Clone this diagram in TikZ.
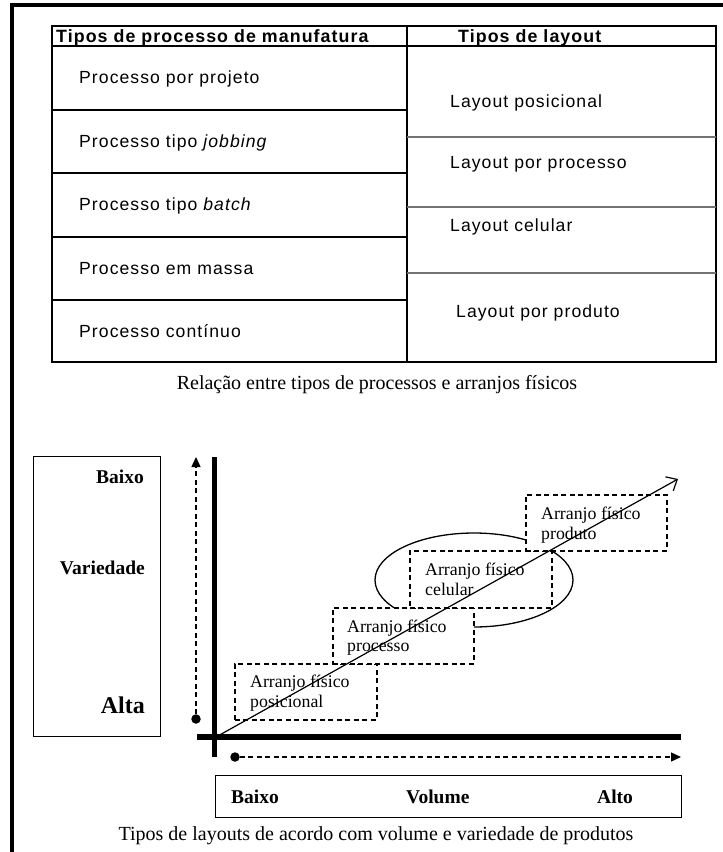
\documentclass[tikz,border=0pt]{standalone}
\usepackage{fontspec}
\setmainfont{Liberation Serif}
\newfontfamily\tabfont[LetterSpace=6]{Liberation Sans}
\usetikzlibrary{arrows.meta,shapes.geometric}

\begin{document}
\begin{tikzpicture}[x=1pt,y=-1pt,
  frameline/.style={line width=4pt},
  tabline/.style={line width=2.8pt},
  sepline/.style={line width=1.8pt, draw=black!55},
  cell/.style={anchor=base west, inner sep=0pt, font=\tabfont\fontsize{17.6}{22}\selectfont},
  headcell/.style={cell, font=\tabfont\bfseries\fontsize{17.8}{22}\selectfont},
  caption/.style={anchor=base, inner sep=0pt, font=\fontsize{20}{22}\selectfont},
  lab/.style={anchor=base west, inner sep=0pt, font=\bfseries\fontsize{19.5}{22}\selectfont},
  labbox/.style={draw, line width=1.4pt, inner sep=0pt, anchor=north west},
  dbox/.style={draw, dash pattern=on 5pt off 3.5pt, line width=1.5pt, fill=white,
    inner sep=0pt, anchor=north west},
  boxtext/.style={anchor=base west, inner sep=0pt, font=\fontsize{17.8}{20}\selectfont},
  axis/.style={line width=5.5pt},
  dashaxis/.style={line width=1.4pt, dash pattern=on 5pt off 3.5pt,
    -{Triangle[length=10pt,width=9pt]}},
  dot/.style={circle, fill, inner sep=0pt, minimum size=9.5pt},
  trend/.style={line width=1.2pt, -{Straight Barb[length=9pt,width=16pt,line width=1.2pt]}},
]
\useasboundingbox (0,0) rectangle (723,852);

% page frame (left and top rules)
\draw[frameline] (12,852) -- (12,5) -- (723,5);

% ---------- table: process types vs layout types ----------
\draw[tabline] (52,26) rectangle (716,362);
\draw[tabline] (52,46) -- (716,46);
\draw[tabline] (407,26) -- (407,362);
\foreach \yy in {110,173,237,300} \draw[tabline] (52,\yy) -- (407,\yy);
\foreach \yy in {137,207,273} \draw[sepline] (407,\yy) -- (716,\yy);

\node[headcell] (h1) at (56,42) {Tipos de processo de manufatura};
\node[headcell] (h2) at (458,42) {Tipos de layout};

\node[cell] (p1) at (79,83)  {Processo por projeto};
\node[cell] (p2) at (79,147) {Processo tipo \textit{jobbing}};
\node[cell] (p3) at (79,210) {Processo tipo \textit{batch}};
\node[cell] (p4) at (79,274) {Processo em massa};
\node[cell] (p5) at (79,337) {Processo contínuo};

\node[cell] (l1) at (450,107) {Layout posicional};
\node[cell] (l2) at (450,168) {Layout por processo};
\node[cell] (l3) at (450,231) {Layout celular};
\node[cell] (l4) at (456,317) {Layout por produto};

\node[caption] (cap1) at (377,389) {Relação entre tipos de processos e arranjos físicos};

% ---------- volume / variety chart ----------
% variety scale box
\node[labbox, minimum width=127pt, minimum height=280pt] (varbox) at (33,456) {};
\node[lab, anchor=base east] (vlow) at (144,483) {Baixo};
\node[lab, anchor=base east] (vname) at (145,574) {Variedade};
\node[lab, anchor=base east, font=\bfseries\fontsize{24}{26}\selectfont] (vhigh) at (145,713) {Alta};

% volume scale box
\node[labbox, minimum width=466pt, minimum height=42pt] (volbox) at (215,775) {};
\node[lab] (hlow) at (231,803) {Baixo};
\node[lab] (hname) at (406,803) {Volume};
\node[lab] (hhigh) at (597,803) {Alto};

\node[caption] (cap2) at (376,840) {Tipos de layouts de acordo com volume e variedade de produtos};

% axes
\coordinate (ytop) at (214.5,457);
\coordinate (ybot) at (214.5,757);
\coordinate (xleft) at (197,737);
\coordinate (xright) at (681,737);
\draw[axis] (ytop) -- (ybot);
\draw[axis] (xleft) -- (xright);

% dashed direction arrows
\node[dot] (vdot) at (196,719) {};
\coordinate (vtip) at (196,457);
\draw[dashaxis] (vdot) -- (vtip);
\node[dot] (hdot) at (235,757) {};
\coordinate (htip) at (681,757);
\draw[dashaxis] (hdot) -- (htip);

% cellular ring, partly hidden behind the boxes
\node[draw, ellipse, line width=1.3pt, inner sep=0pt,
      minimum width=198pt, minimum height=94pt] (ring) at (474,580) {};

% layout boxes
\node[dbox, minimum width=142pt, minimum height=56pt] (bpos)  at (234,663) {};
\node[dbox, minimum width=141pt, minimum height=56pt] (bproc) at (332,607) {};
\node[dbox, minimum width=142pt, minimum height=57pt] (bcel)  at (409,550) {};
\node[dbox, minimum width=141pt, minimum height=56pt] (bprod) at (525,494) {};

\node[boxtext] (tpos1)  at (250,687) {Arranjo físico};
\node[boxtext] (tpos2)  at (250,707) {posicional};
\node[boxtext] (tproc1) at (347,632) {Arranjo físico};
\node[boxtext] (tproc2) at (347,651) {processo};
\node[boxtext] (tcel1)  at (425,575) {Arranjo físico};
\node[boxtext] (tcel2)  at (425,595) {celular};
\node[boxtext] (tprod1) at (541,519) {Arranjo físico};
\node[boxtext] (tprod2) at (541,539) {produto};

% trend arrow from the origin
\coordinate (origin) at (216,737);
\coordinate (trendtip) at (678,479);
\draw[trend] (origin) -- (trendtip);
\end{tikzpicture}
\end{document}
